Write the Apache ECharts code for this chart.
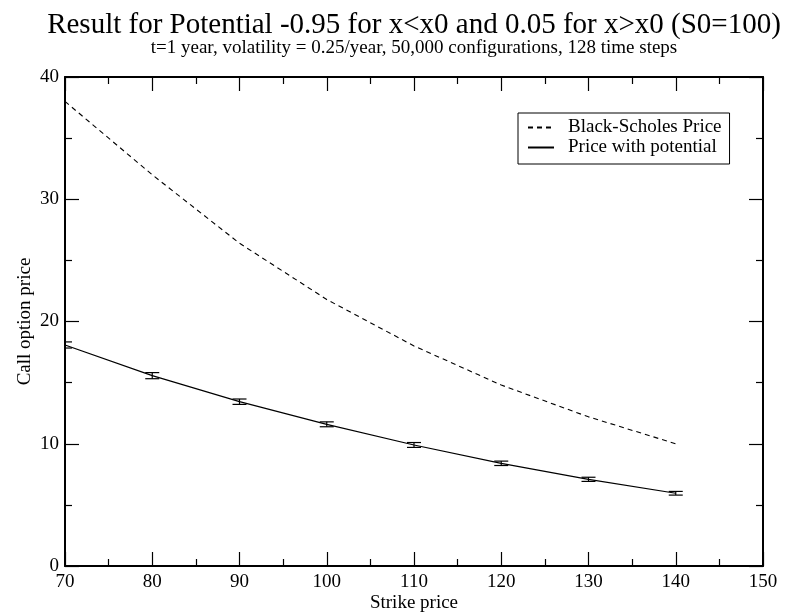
<!DOCTYPE html>
<html><head><meta charset="utf-8">
<script src="https://cdn.jsdelivr.net/npm/echarts@6/dist/echarts.min.js"></script>
<style>html,body{margin:0;padding:0;background:#fff}#c{width:788px;height:615px}</style>
</head><body><div id="c"></div>
<script>
const strikes = [70, 80, 90, 100, 110, 120, 130, 140];
const bsPrice = [38.0, 32.0, 26.4, 21.8, 18.0, 14.8, 12.2, 10.0];
const potPrice = [18.08, 15.57, 13.44, 11.59, 9.90, 8.40, 7.09, 5.95];
const potErr = [0.25, 0.25, 0.22, 0.2, 0.2, 0.18, 0.17, 0.15];
const xTicks = [70, 80, 90, 100, 110, 120, 130, 140, 150];
const yTicks = [0, 10, 20, 30, 40];

const F = '"Liberation Serif", "DejaVu Serif", serif';
const chart = echarts.init(document.getElementById('c'));
const axisCommon = {
  axisLine: {show: true, onZero: false, lineStyle: {color: '#000', width: 2}},
  axisTick: {show: true, inside: true, length: 14, lineStyle: {color: '#000', width: 1.2}},
  minorTick: {show: true, splitNumber: 2, length: 7, lineStyle: {color: '#000', width: 1.2}},
  splitLine: {show: false}
};
chart.setOption({
  animation: false,
  backgroundColor: '#fff',
  title: [
    {text: 'Result for Potential -0.95 for x<x0 and 0.05 for x>x0 (S0=100)', left: 414, top: 11, padding: 0, textAlign: 'center',
     textStyle: {fontFamily: F, fontSize: 29, fontWeight: 'normal', color: '#000'}},
    {text: 't=1 year, volatility = 0.25/year, 50,000 configurations, 128 time steps', left: 414, top: 39, padding: 0, textAlign: 'center',
     textStyle: {fontFamily: F, fontSize: 19, fontWeight: 'normal', color: '#000'}}
  ],
  legend: {
    left: 518, top: 113, orient: 'vertical', itemGap: 1, itemWidth: 26, itemHeight: 14,
    padding: [5, 8, 7, 9], borderColor: '#000', borderWidth: 1, borderRadius: 0,
    itemStyle: {opacity: 0},
    textStyle: {fontFamily: F, fontSize: 19, color: '#000', padding: [0, 0, 0, 9]},
    data: ['Black-Scholes Price', 'Price with potential']
  },
  grid: {left: 65, right: 25, top: 77, bottom: 49, containLabel: false, outerBoundsMode: 'none'},
  xAxis: [
    Object.assign({type: 'value', min: xTicks[0], max: xTicks[xTicks.length-1], interval: 10, position: 'bottom',
      name: 'Strike price', nameLocation: 'middle', nameGap: 28, nameMoveOverlap: false,
      nameTextStyle: {fontFamily: F, fontSize: 19, color: '#000'},
      axisLabel: {fontFamily: F, fontSize: 19, color: '#000', margin: 7}}, axisCommon),
    Object.assign({type: 'value', min: xTicks[0], max: xTicks[xTicks.length-1], interval: 10, position: 'top',
      axisLabel: {show: false}}, axisCommon)
  ],
  yAxis: [
    Object.assign({type: 'value', min: yTicks[0], max: yTicks[yTicks.length-1], interval: 10, position: 'left',
      name: 'Call option price', nameLocation: 'middle', nameGap: 30, nameMoveOverlap: false,
      nameTextStyle: {fontFamily: F, fontSize: 19, color: '#000'},
      axisLabel: {fontFamily: F, fontSize: 19, color: '#000', margin: 6}}, axisCommon),
    Object.assign({type: 'value', min: yTicks[0], max: yTicks[yTicks.length-1], interval: 10, position: 'right',
      axisLabel: {show: false}}, axisCommon)
  ],
  series: [
    {name: 'Black-Scholes Price', type: 'line', symbol: 'none', smooth: false,
     lineStyle: {color: '#000', width: 1.1, type: [5, 4]}, itemStyle: {color: '#000'},
     data: strikes.map((x, i) => [x, bsPrice[i]])},
    {name: 'Price with potential', type: 'line', symbol: 'none',
     lineStyle: {color: '#000', width: 1.2, type: 'solid'}, itemStyle: {color: '#000'},
     data: strikes.map((x, i) => [x, potPrice[i]])},
    {name: 'err', type: 'custom', z: 5, clip: true,
     data: strikes.map((x, i) => [x, potPrice[i] - potErr[i], potPrice[i] + potErr[i]]),
     renderItem: function (params, api) {
       const lo = api.coord([api.value(0), api.value(1)]);
       const hi = api.coord([api.value(0), api.value(2)]);
       const w = 7;
       const st = {stroke: '#000', lineWidth: 1.2};
       return {type: 'group', children: [
         {type: 'line', shape: {x1: lo[0], y1: lo[1], x2: hi[0], y2: hi[1]}, style: st},
         {type: 'line', shape: {x1: lo[0]-w, y1: lo[1], x2: lo[0]+w, y2: lo[1]}, style: st},
         {type: 'line', shape: {x1: hi[0]-w, y1: hi[1], x2: hi[0]+w, y2: hi[1]}, style: st}
       ]};
     }}
  ]
});
</script></body></html>
